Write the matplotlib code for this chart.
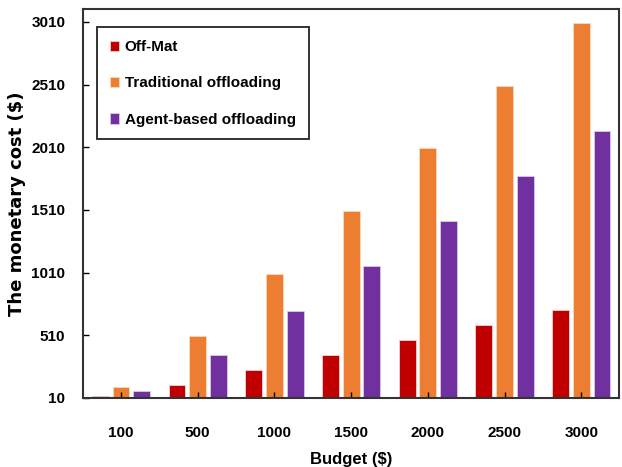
import matplotlib.pyplot as plt
import numpy as np

budgets = ['100', '500', '1000', '1500', '2000', '2500', '3000']
off_mat = [25, 110, 230, 350, 470, 590, 710]
traditional = [100, 500, 1000, 1500, 2000, 2500, 3000]
agent_based = [65, 350, 700, 1060, 1420, 1780, 2140]
yticks = [10, 510, 1010, 1510, 2010, 2510, 3010]

plt.rcParams['font.family'] = ['Liberation Sans Narrow', 'Liberation Sans', 'DejaVu Sans']
plt.rcParams['font.weight'] = 'bold'

fig = plt.figure(figsize=(6.22, 4.67), dpi=100)
ax = fig.add_axes([0.134, 0.148, 0.861, 0.832])

x = np.arange(len(budgets))
w = 0.22
step = 0.27
ax.bar(x - step, off_mat, w, color='#C00000', edgecolor='#f4d0d0', linewidth=0.6, label='Off-Mat')
ax.bar(x, traditional, w, color='#ED7D31', edgecolor='#fbd9c0', linewidth=0.6, label='Traditional offloading')
ax.bar(x + step, agent_based, w, color='#7030A0', edgecolor='#dcc8ec', linewidth=0.6, label='Agent-based offloading')

ax.set_xlim(-0.49, 6.49)
ax.set_ylim(10, 3110)
ax.set_yticks(yticks)
ax.set_xticks(x)
ax.set_xticklabels(budgets)
ax.tick_params(direction='in', length=4, width=1, labelsize=11)
ax.tick_params(axis='y', pad=13)
ax.tick_params(axis='x', pad=20)
for s in ax.spines.values():
    s.set_linewidth(1.5)
    s.set_color('#333333')

ax.set_xlabel('Budget ($)', fontsize=12, fontweight='bold', labelpad=9)
ax.set_ylabel('The monetary cost ($)', fontsize=13, fontweight='bold', labelpad=4,
              family=['DejaVu Sans'])

leg = ax.legend(loc='upper left', bbox_to_anchor=(0.026, 0.954), fontsize=11,
                handlelength=0.55, handleheight=0.7, handletextpad=0.4,
                labelspacing=1.45, borderpad=0.85, borderaxespad=0,
                fancybox=False, framealpha=1, edgecolor='#222222')
leg.get_frame().set_linewidth(1.3)

fig.savefig('out.png', dpi=100)
